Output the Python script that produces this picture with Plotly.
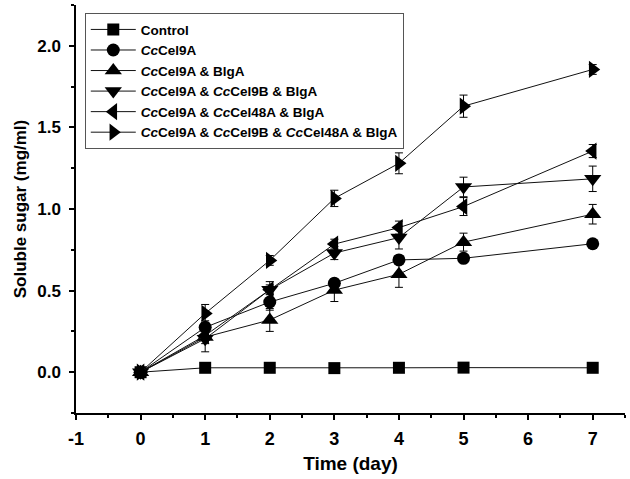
import plotly.graph_objects as go

days = [0, 1, 2, 3, 4, 5, 7]
names = [
    "Control",
    "<i>Cc</i>Cel9A",
    "<i>Cc</i>Cel9A & BlgA",
    "<i>Cc</i>Cel9A & <i>Cc</i>Cel9B & BlgA",
    "<i>Cc</i>Cel9A & <i>Cc</i>Cel48A & BlgA",
    "<i>Cc</i>Cel9A & <i>Cc</i>Cel9B & <i>Cc</i>Cel48A & BlgA",
]
control = [0.0, 0.027, 0.027, 0.025, 0.027, 0.028, 0.027]
cel9a = [0.0, 0.275, 0.43, 0.545, 0.688, 0.698, 0.787]
cel9a_bgl = [0.0, 0.215, 0.32, 0.503, 0.60, 0.797, 0.968]
cel9a_9b_bgl = [0.0, 0.205, 0.505, 0.73, 0.825, 1.135, 1.185]
cel9a_48a_bgl = [0.0, 0.225, 0.505, 0.785, 0.886, 1.015, 1.355]
cel9a_9b_48a_bgl = [0.0, 0.36, 0.685, 1.065, 1.28, 1.63, 1.855]

err_control = [0.0, 0.005, 0.005, 0.005, 0.005, 0.005, 0.005]
err_cel9a = [0.0, 0.04, 0.05, 0.02, 0.02, 0.02, 0.02]
err_cel9a_bgl = [0.0, 0.04, 0.07, 0.07, 0.08, 0.055, 0.06]
err_cel9a_9b_bgl = [0.0, 0.08, 0.05, 0.04, 0.07, 0.06, 0.078]
err_cel9a_48a_bgl = [0.0, 0.03, 0.03, 0.03, 0.04, 0.055, 0.04]
err_cel9a_9b_48a_bgl = [0.0, 0.055, 0.03, 0.05, 0.064, 0.068, 0.03]

x_tickvals = [-1, 0, 1, 2, 3, 4, 5, 6, 7]
x_ticktext = ["-1", "0", "1", "2", "3", "4", "5", "6", "7"]

series = [control, cel9a, cel9a_bgl, cel9a_9b_bgl, cel9a_48a_bgl, cel9a_9b_48a_bgl]
errors = [err_control, err_cel9a, err_cel9a_bgl, err_cel9a_9b_bgl, err_cel9a_48a_bgl, err_cel9a_9b_48a_bgl]
symbols = ["square", "circle", "triangle-up", "triangle-down", "triangle-left", "triangle-right"]
sizes = [12, 13, 15, 15, 15, 15]

fig = go.Figure()
for name, ys, es, sym, sz in zip(names, series, errors, symbols, sizes):
    fig.add_trace(go.Scatter(
        x=days, y=ys, name=name, mode="lines+markers",
        line=dict(color="#111111", width=1),
        marker=dict(symbol=sym, size=sz, color="black", line=dict(width=0)),
        error_y=dict(type="data", array=es, visible=True, color="black", thickness=1, width=4),
    ))

font_family = "Liberation Sans, Arial, sans-serif"
fig.update_layout(
    width=630, height=479,
    margin=dict(l=76, r=5, t=5, b=66),
    paper_bgcolor="white", plot_bgcolor="white",
    font=dict(family=font_family, color="black", size=14, weight="bold"),
    showlegend=True,
    legend=dict(
        x=0.016, y=0.98, xanchor="left", yanchor="top",
        bordercolor="#555555", borderwidth=1, bgcolor="white",
        font=dict(size=13.5, family=font_family, weight="bold"),
        itemwidth=45, tracegroupgap=0,
    ),
    xaxis=dict(
        range=[-1, 7.5], tickvals=x_tickvals, ticktext=x_ticktext,
        showgrid=False, zeroline=False, automargin=False,
        showline=True, linecolor="black", linewidth=1.5,
        ticks="outside", ticklen=5, tickwidth=1.5, tickcolor="black",
        ticklabelstandoff=4,
        tickfont=dict(size=18, family=font_family, weight="bold"),
        minor=dict(ticks="outside", ticklen=3, tickwidth=1.5, dtick=0.5, tickcolor="black"),
        title=dict(text="Time (day)", font=dict(size=19, family=font_family, weight="bold"), standoff=8),
    ),
    yaxis=dict(
        range=[-0.25, 2.25], dtick=0.5, tick0=0, tickformat=".1f",
        showgrid=False, zeroline=False, automargin=False,
        showline=True, linecolor="black", linewidth=1.5,
        ticks="outside", ticklen=5, tickwidth=1.5, tickcolor="black",
        ticklabelstandoff=5,
        tickfont=dict(size=17, family=font_family, weight="bold"),
        minor=dict(ticks="outside", ticklen=3, tickwidth=1.5, dtick=0.25, tickcolor="black"),
        title=dict(text="Soluble sugar (mg/ml)", font=dict(size=17, family=font_family, weight="bold"), standoff=6),
    ),
)

fig.write_html("out.html", config={"displayModeBar": False},
               post_script="document.body.style.margin='0';")
